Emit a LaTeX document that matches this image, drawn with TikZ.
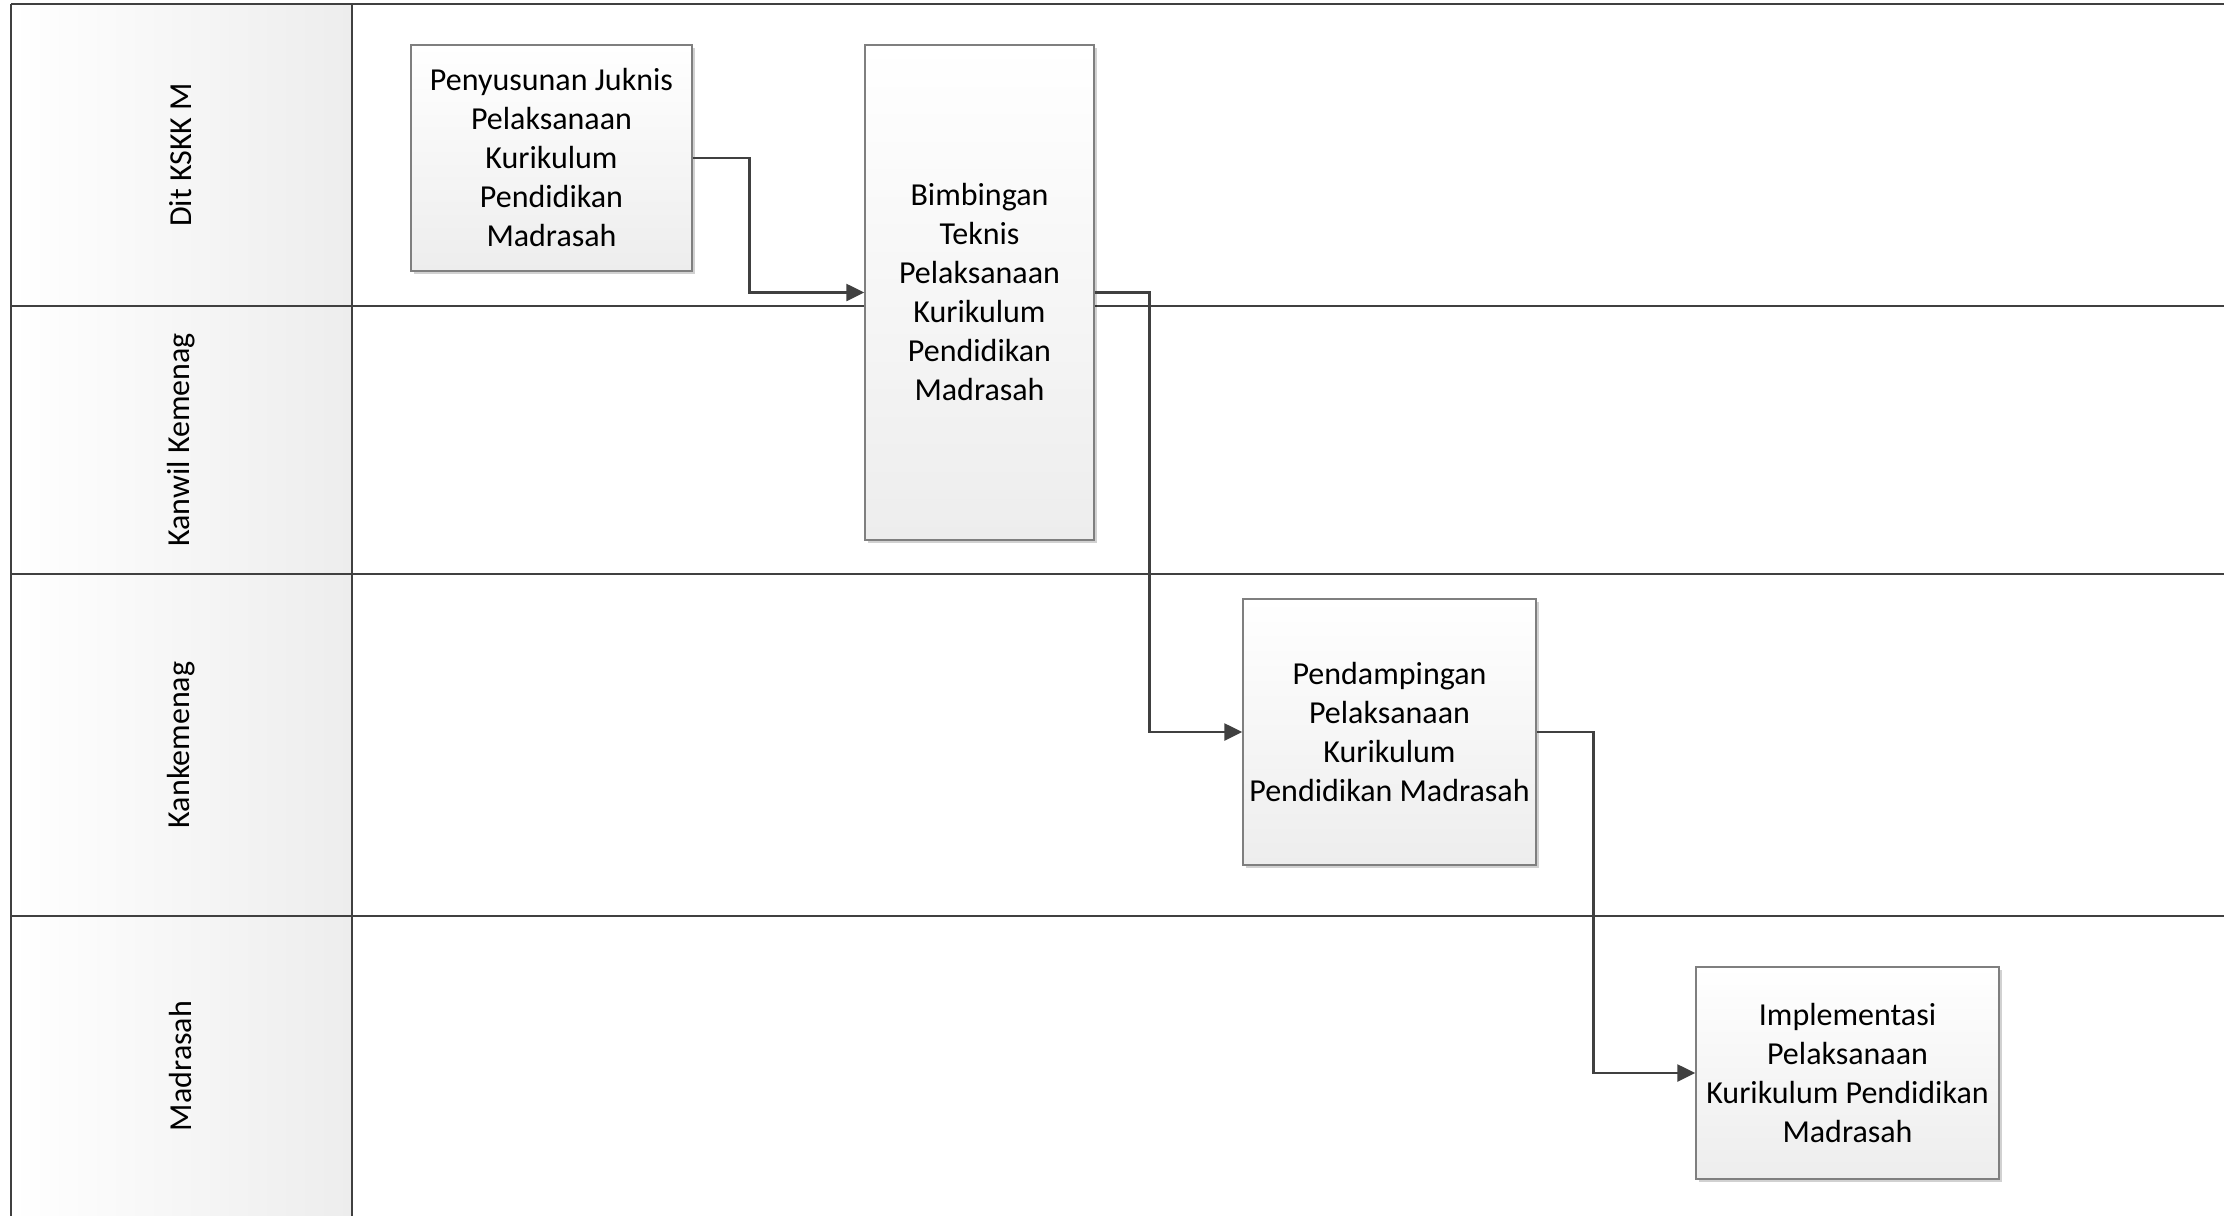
\documentclass[tikz,border=0pt]{standalone}
\usepackage{fontspec}
\setmainfont{Carlito}
\usetikzlibrary{arrows.meta,shadows}
\definecolor{lineC}{HTML}{404040}
\definecolor{boxB}{HTML}{7F7F7F}
\definecolor{gradE}{HTML}{EDEDED}
\begin{document}
\begin{tikzpicture}[x=0.5pt,y=-0.5pt,
  lane/.style={draw=lineC,line width=1.25pt},
  proc/.style={draw=boxB,line width=0.75pt,top color=white,bottom color=gradE,align=center,inner sep=0pt,
    font=\fontsize{16}{19.5}\selectfont,
    drop shadow={shadow xshift=1.5pt,shadow yshift=-1.5pt,fill=black,opacity=0.18}},
  flow/.style={draw=lineC,line width=1.3pt,-{Triangle[length=9pt,width=8.5pt]}},
  lbl/.style={rotate=90,font=\fontsize{16}{19.5}\selectfont,inner sep=0pt}]
\useasboundingbox (0,0) rectangle (2224,1216);
\fill[white] (0,0) rectangle (2224,1216);
% label column
\shade[left color=white,right color=gradE] (11,4) rectangle (352,1216);
% lane lines
\draw[lane] (11,4) -- (2224,4);
\draw[lane] (11,306) -- (2224,306);
\draw[lane] (11,574) -- (2224,574);
\draw[lane] (11,916) -- (2224,916);
\draw[lane] (11,4) -- (11,1216);
\draw[lane] (352,4) -- (352,1216);
% lane labels
\node[lbl] (l1) at (181,155) {Dit KSKK M};
\node[lbl] (l2) at (181,440) {Kanwil Kemenag};
\node[lbl] (l3) at (181,745) {Kankemenag};
\node[lbl] (l4) at (181,1066) {Madrasah};
% process boxes
\node[proc,minimum width=140.5pt,minimum height=113pt] (p1) at (551.5,158)
  {Penyusunan Juknis\\Pelaksanaan\\Kurikulum\\Pendidikan\\Madrasah};
\node[proc,minimum width=114.5pt,minimum height=247.5pt] (p2) at (979.5,292.5)
  {Bimbingan\\Teknis\\Pelaksanaan\\Kurikulum\\Pendidikan\\Madrasah};
\node[proc,minimum width=146.5pt,minimum height=133pt] (p3) at (1389.5,732)
  {Pendampingan\\Pelaksanaan\\Kurikulum\\Pendidikan Madrasah};
\node[proc,minimum width=151.5pt,minimum height=106pt] (p4) at (1847.5,1073)
  {Implementasi\\Pelaksanaan\\Kurikulum Pendidikan\\Madrasah};
% connectors
\draw[flow] (p1.east) -- ++(57,0) |- (p2.west);
\draw[flow] (p2.east) -- ++(55,0) |- (p3.west);
\draw[flow] (p3.east) -- ++(57,0) |- (p4.west);
\end{tikzpicture}
\end{document}
